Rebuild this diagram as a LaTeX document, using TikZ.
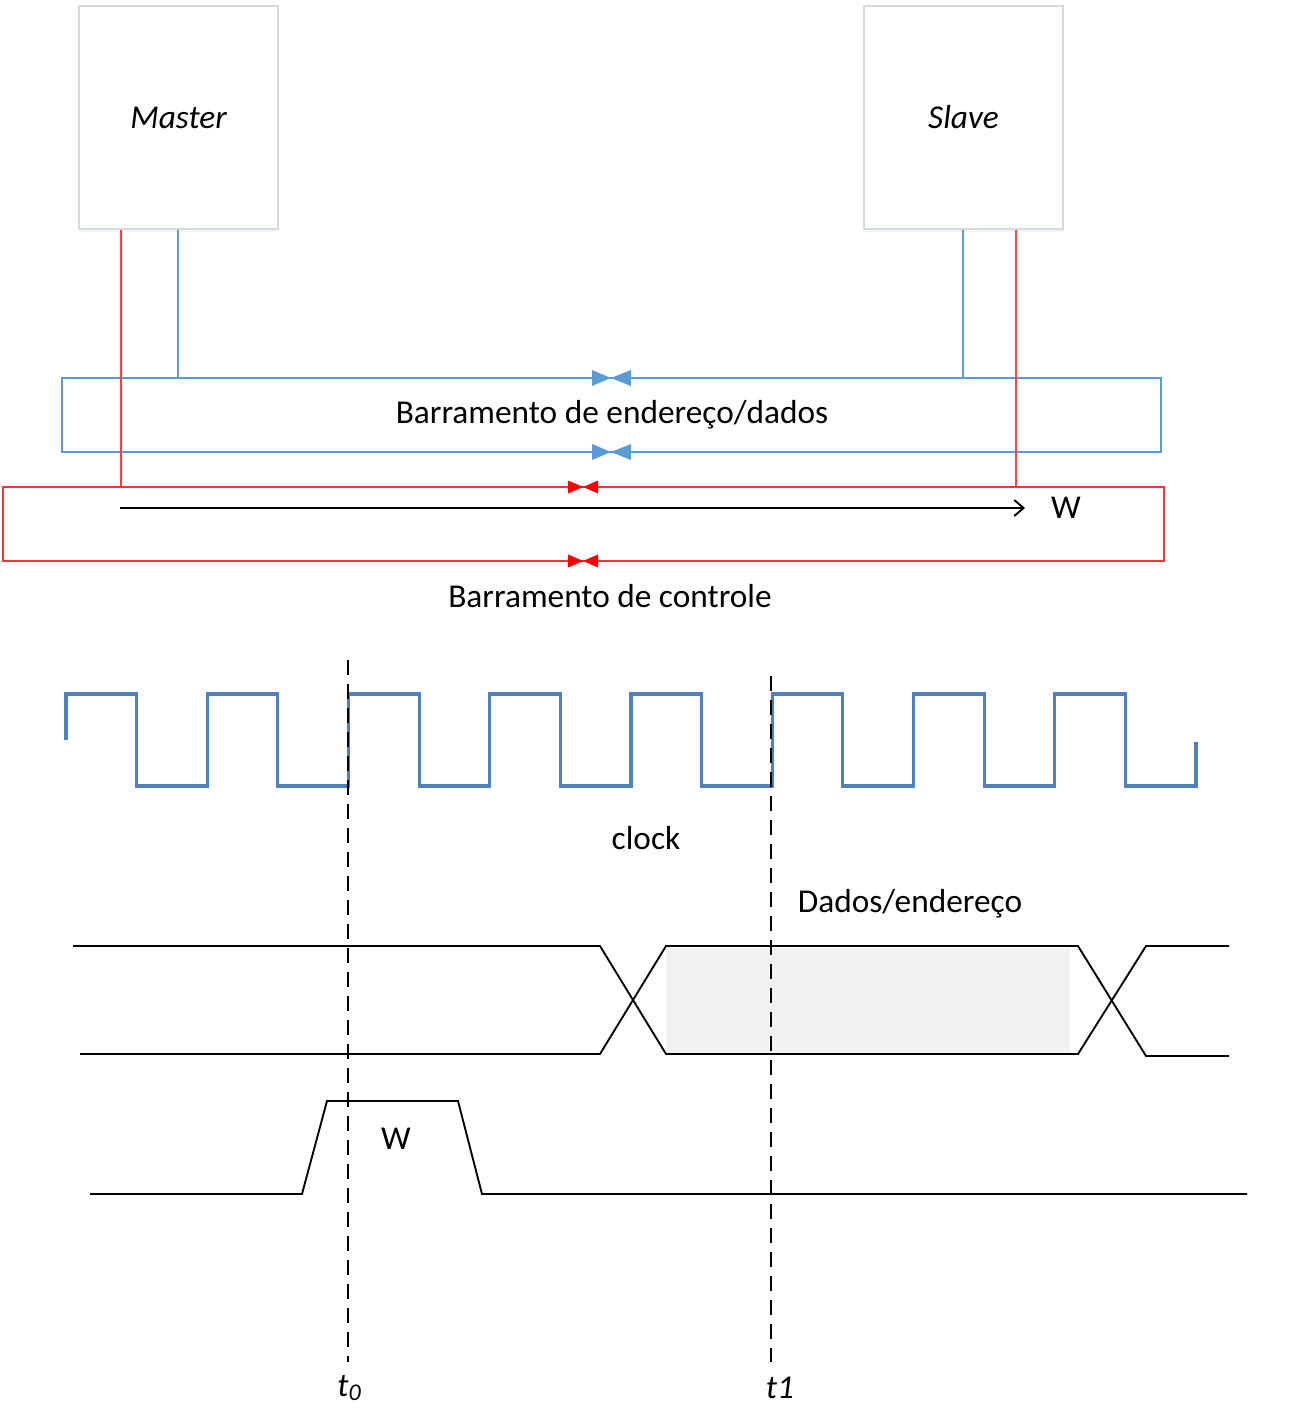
\documentclass[tikz,border=0pt]{standalone}
\usepackage{fontspec}
\setmainfont{Carlito}
\usetikzlibrary{fit,shadows,arrows.meta}
\definecolor{busblue}{HTML}{5B9BD5}
\definecolor{clkblue}{HTML}{4F81BD}
\definecolor{busred}{HTML}{FF0000}
\definecolor{boxgray}{HTML}{D9D9D9}
\begin{document}
\begin{tikzpicture}[x=0.75pt,y=-0.75pt,
  txt/.style={font=\fontsize{25}{30}\selectfont, inner sep=0pt},
  itxt/.style={font=\fontsize{25}{30}\selectfont\itshape, inner sep=0pt},
  unitbox/.style={draw=boxgray, line width=1.2pt, fill=white, inner sep=0pt,
     drop shadow={shadow xshift=1pt, shadow yshift=-2pt, fill=busblue!15, opacity=0.6}},
  bluebus/.style={draw=busblue, line width=1.8pt, inner sep=0pt},
  redbus/.style={draw=busred!80, line width=0.8pt, inner sep=0pt},
  bluewire/.style={draw=busblue, line width=1.6pt},
  redwire/.style={draw=busred!75, line width=0.8pt},
  clk/.style={draw=clkblue, line width=2.4pt, line join=miter},
  sig/.style={draw=black, line width=1.4pt},
  tline/.style={draw=black, line width=1.7pt, dash pattern=on 11pt off 7pt},
]
\useasboundingbox (0,0) rectangle (1306,1424);

% ---------- blocks ----------
\node[unitbox, fit={(79,6) (278,229)}] (master) {};
\node[itxt] (masterlbl) at (master.center) {Master};
\node[unitbox, fit={(864,6) (1063,229)}] (slave) {};
\node[itxt] (slavelbl) at (slave.center) {Slave};

% ---------- buses ----------
\node[bluebus, fit={(62,378) (1161,452)}] (abus) {};
\node[txt] (abuslbl) at (612,415) {Barramento de endereço/dados};
\node[redbus, fit={(3,487) (1164,561)}] (cbus) {};
\node[txt] (cbuslbl) at (610,596) {Barramento de controle};

% wires from blocks to buses
\draw[redwire] (master.south -| 121,0) -- (cbus.north -| 121,0);
\draw[bluewire] (master.south -| 178,0) -- (abus.north -| 178,0);
\draw[bluewire] (slave.south -| 963,0) -- (abus.north -| 963,0);
\draw[redwire] (slave.south -| 1016,0) -- (cbus.north -| 1016,0);

% bow-tie markers
\foreach \y in {378,452}{
  \fill[busblue] (592,\y-8) -- (611,\y) -- (592,\y+8) -- cycle;
  \fill[busblue] (631,\y-8) -- (611,\y) -- (631,\y+8) -- cycle;
}
\foreach \y in {487,561}{
  \fill[busred] (568,\y-6.5) -- (583,\y) -- (568,\y+6.5) -- cycle;
  \fill[busred] (598,\y-6.5) -- (583,\y) -- (598,\y+6.5) -- cycle;
}

% W arrow in control bus
\coordinate (wstart) at (120,508);
\node[txt] (wlbl) at (1066,508) {W};
\draw[black, line width=1.4pt, -{Straight Barb[length=7pt,width=12pt]}] (wstart) -- (1025,508);

% ---------- timing diagram ----------
% clock
\draw[clk] (66,740) -- (66,694)
  \foreach \i in {0,...,7}{
    -- ({66+141.25*\i+70.6},694) -- ({66+141.25*\i+70.6},786)
    -- ({66+141.25*(\i+1)},786)
    \ifnum\i<7 -- ({66+141.25*(\i+1)},694)\fi
  } -- (1196,742);
\node[txt] (clklbl) at (646,838) {clock};

% data / address
\fill[black!5] (666,948) rectangle (1070,1054);
\node[inner sep=0pt, fit={(666,948) (1070,1054)}] (valid) {};
\draw[sig] (73,946) -- (600,946) -- (666,1054) -- (1078,1054) -- (1146,946) -- (1229,946);
\draw[sig] (80,1054) -- (600,1054) -- (666,946) -- (1078,946) -- (1146,1056) -- (1229,1056);
\node[txt] (datalbl) at (910,904) {Dados/endereço};

% W strobe
\draw[sig] (90,1194) -- (302,1194) -- (327,1101) -- (458,1101) -- (482,1194) -- (1247,1194);
\node[txt] (wsiglbl) at (396,1139) {W};

% time markers
\node[itxt] (t0) at (349,1388) {t\raisebox{-0.3ex}{\fontsize{18}{20}\selectfont 0}};
\node[itxt] (t1) at (780,1388) {t1};
\draw[tline] (348,660) -- (348,1362);
\draw[tline] (771,676) -- (771,1362);
\end{tikzpicture}
\end{document}
